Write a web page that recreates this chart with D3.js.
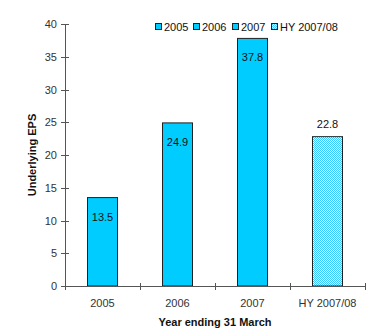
<!DOCTYPE html>
<html><head><meta charset="utf-8">
<script src="https://cdn.jsdelivr.net/npm/d3@7"></script>
<style>body{margin:0;background:#fff}svg{display:block}text{font-family:"Liberation Sans",Arial,sans-serif}</style>
</head><body><svg id="c" width="373" height="329"></svg>
<script>
const categories = ["2005","2006","2007","HY 2007/08"];
const values = [13.5, 24.9, 37.8, 22.8];
const yTicks = [0,5,10,15,20,25,30,35,40];
const legendLabels = ["2005","2006","2007","HY 2007/08"];

const svg = d3.select("#c");
const defs = svg.append("defs");
const pat = defs.append("pattern").attr("id","chk").attr("width",2).attr("height",2).attr("patternUnits","userSpaceOnUse");
pat.append("rect").attr("width",2).attr("height",2).attr("fill","#ffffff");
pat.append("rect").attr("width",1).attr("height",1).attr("fill","#33ccff");
pat.append("rect").attr("x",1).attr("y",1).attr("width",1).attr("height",1).attr("fill","#33ccff");

const x = d3.scaleBand().domain(categories).range([65,365]).paddingInner(0.6).paddingOuter(0.3);
const y = d3.scaleLinear().domain([0,40]).range([286,24]);
const fillFor = (d,i) => i===3 ? "url(#chk)" : "#00ccff";

// bars
svg.selectAll("rect.bar").data(values).enter().append("rect")
  .attr("x",(d,i)=>x(categories[i])).attr("y",d=>y(d))
  .attr("width",x.bandwidth()).attr("height",d=>y(0)-y(d))
  .attr("fill",fillFor).attr("stroke","#222").attr("stroke-width",1);

// value labels
svg.selectAll("text.val").data(values).enter().append("text")
  .attr("x",(d,i)=>x(categories[i])+x.bandwidth()/2)
  .attr("y",(d,i)=> i===3 ? y(d)-9 : y(d)+23)
  .attr("text-anchor","middle").attr("font-size",11).attr("fill","#111")
  .text(d=>d.toFixed(1));

// y axis
const ax = svg.append("g").attr("stroke","#555");
ax.append("line").attr("x1",65.5).attr("x2",65.5).attr("y1",y(40)).attr("y2",y(0)+3);
yTicks.forEach(t=>{
  ax.append("line").attr("x1",61).attr("x2",69).attr("y1",Math.round(y(t))+0.5).attr("y2",Math.round(y(t))+0.5);
});
svg.selectAll("text.yt").data(yTicks).enter().append("text")
  .attr("x",57).attr("y",d=>y(d)+4).attr("text-anchor","end")
  .attr("font-size",11).attr("fill","#333").text(d=>d);

// x axis
ax.append("line").attr("x1",65).attr("x2",365).attr("y1",286.5).attr("y2",286.5);
const bounds = [65,140,215,290,365];
bounds.forEach(b=>{
  ax.append("line").attr("x1",b+0.5).attr("x2",b+0.5).attr("y1",283).attr("y2",290);
});
svg.selectAll("text.xt").data(categories).enter().append("text")
  .attr("x",d=>x(d)+x.bandwidth()/2).attr("y",307).attr("text-anchor","middle")
  .attr("font-size",11).attr("fill","#333").text(d=>d);

// axis titles
svg.append("text").attr("x",215).attr("y",326).attr("text-anchor","middle")
  .attr("font-size",11).attr("font-weight","bold").attr("fill","#111").text("Year ending 31 March");
svg.append("text").attr("transform","translate(36,155) rotate(-90)").attr("text-anchor","middle")
  .attr("font-size",11).attr("font-weight","bold").attr("fill","#111").text("Underlying EPS");

// legend
const lx = [155,193,232,271];
legendLabels.forEach((l,i)=>{
  svg.append("rect").attr("x",lx[i]+0.5).attr("y",23.5).attr("width",6).attr("height",6)
    .attr("fill", i===3 ? "url(#chk)" : "#00ccff").attr("stroke","#222");
  svg.append("text").attr("x",lx[i]+9).attr("y",31).attr("font-size",11).attr("fill","#111").text(l);
});
</script></body></html>
